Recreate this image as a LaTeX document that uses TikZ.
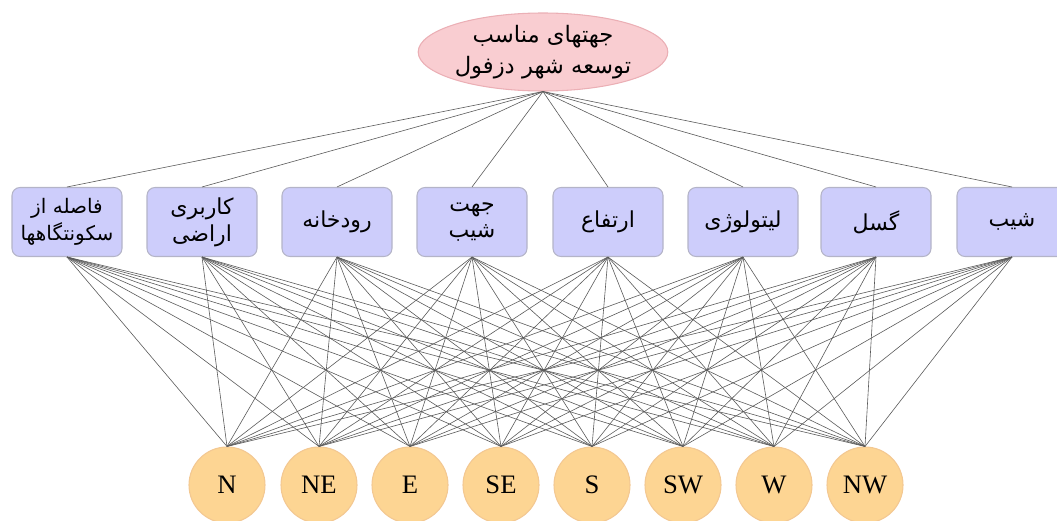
\documentclass[tikz,border=0pt]{standalone}
\usepackage{fontspec}
\setmainfont{Liberation Serif}
\newfontfamily\fa[Script=Arabic]{DejaVu Sans}
\TeXXeTstate=1
\usetikzlibrary{shapes.geometric}
\definecolor{goalfill}{HTML}{F9CDD1}
\definecolor{goaldraw}{HTML}{EBAFB5}
\definecolor{critfill}{HTML}{CDCDFB}
\definecolor{critdraw}{HTML}{B4B4C8}
\definecolor{altfill}{HTML}{FDD593}
\definecolor{altdraw}{HTML}{F3C892}
\definecolor{linkc}{HTML}{5A5A5A}
\tikzset{
  goal/.style={ellipse, fill=goalfill, draw=goaldraw, line width=0.8pt, minimum width=180pt, minimum height=58.5pt, inner sep=0pt, align=center, font=\fa\fontsize{17}{23}\selectfont},
  crit/.style={rectangle, rounded corners=6pt, fill=critfill, draw=critdraw, line width=0.8pt, minimum width=82.5pt, minimum height=51.75pt, inner sep=0pt, align=center, font=\fa\fontsize{16.5}{20}\selectfont},
  smallcrit/.style={font=\fa\fontsize{15}{20}\selectfont},
  alt/.style={circle, fill=altfill, draw=altdraw, line width=0.8pt, minimum size=57pt, inner sep=0pt, font=\fontsize{20}{22}\selectfont},
  link/.style={draw=linkc, line width=0.45pt}
}
\newcommand{\rtl}[1]{\beginR #1\endR}
\begin{document}
\begin{tikzpicture}[x=0.75pt,y=-0.75pt]
\useasboundingbox (0,0) rectangle (1057,521);
\node[goal] (g) at (543,52) {\rtl{جهتهای مناسب}\\\rtl{توسعه شهر دزفول}};
\node[crit,smallcrit] (c1) at (67,222) {\rtl{فاصله از}\\\rtl{سکونتگاهها}};
\node[crit] (c2) at (202,222) {\rtl{کاربری}\\\rtl{اراضی}};
\node[crit] (c3) at (337,222) {\rtl{رودخانه}};
\node[crit] (c4) at (472,222) {\rtl{جهت}\\\rtl{شیب}};
\node[crit] (c5) at (608,222) {\rtl{ارتفاع}};
\node[crit] (c6) at (743,222) {\rtl{لیتولوژی}};
\node[crit] (c7) at (876,222) {\rtl{گسل}};
\node[crit] (c8) at (1012,222) {\rtl{شیب}};
\node[alt] (a1) at (227,485) {N};
\node[alt] (a2) at (319,485) {NE};
\node[alt] (a3) at (410,485) {E};
\node[alt] (a4) at (501,485) {SE};
\node[alt] (a5) at (592,485) {S};
\node[alt] (a6) at (683,485) {SW};
\node[alt] (a7) at (774,485) {W};
\node[alt] (a8) at (865,485) {NW};
\foreach \c in {1,...,8} {
  \draw[link] (g.south) -- (c\c.north);
  \foreach \a in {1,...,8} {
    \draw[link] (c\c.south) -- (a\a.north);
  }
}
\end{tikzpicture}
\end{document}
